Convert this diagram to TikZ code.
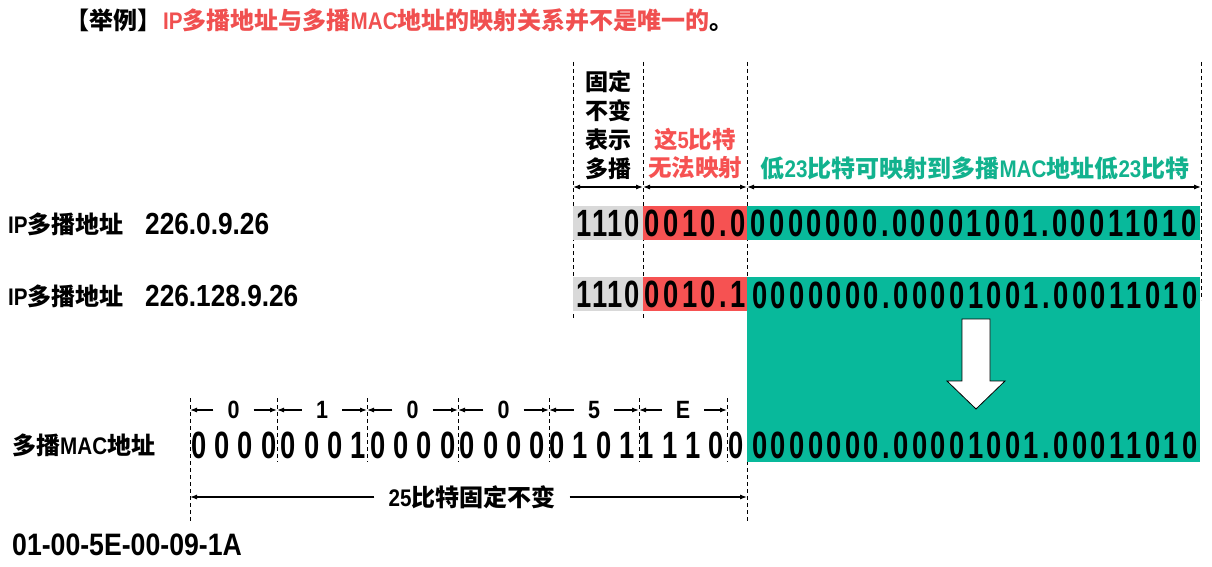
\documentclass[tikz,border=0pt]{standalone}
\usepackage{fontspec}
\setmainfont{Liberation Sans}
\newfontfamily\cjk{Noto Sans CJK SC}
\newfontfamily\lat{Liberation Sans}[FakeStretch=0.86]
\newfontfamily\bitf{Liberation Sans}[FakeStretch=0.72,LetterSpace=9]
\newfontfamily\bitg{Liberation Sans}[FakeStretch=0.72,LetterSpace=5]
\newfontfamily\bitd{Liberation Sans}[FakeStretch=0.72]
\usetikzlibrary{arrows.meta}
\definecolor{boxred}{RGB}{246,82,82}
\definecolor{titlered}{RGB}{240,80,80}
\definecolor{boxgreen}{RGB}{8,185,155}
\definecolor{txtgreen}{RGB}{18,178,142}
\definecolor{boxgray}{RGB}{217,217,217}
\newcommand\zhb[1]{{\cjk\bfseries #1}}
\newcommand\enb[1]{{\lat\bfseries #1}}
\tikzset{
  guide/.style={draw=black, line width=0.8pt, dash pattern=on 4pt off 3pt},
  dimarrow/.style={{Latex[length=7pt,width=5pt]}-{Latex[length=7pt,width=5pt]}, line width=1.1pt},
  onearrow/.style={-{Latex[length=7pt,width=5pt]}, line width=1.1pt},
  cell/.style={inner sep=0pt, anchor=north west, font=\fontsize{38}{38}\selectfont\bitf\bfseries},
  graycell/.style={cell, font=\fontsize{38}{38}\selectfont\bitg\bfseries},
  bitstr/.style={inner sep=0pt, font=\fontsize{38}{38}\selectfont\bitf\bfseries},
  bitdig/.style={inner sep=0pt, font=\fontsize{38}{38}\selectfont\bitd\bfseries},
  lbl/.style={inner sep=0pt, font=\fontsize{22}{22}\selectfont},
  hexlbl/.style={inner xsep=14pt, inner ysep=0pt, font=\fontsize{25}{25}\selectfont\lat\bfseries},
}
\begin{document}
\begin{tikzpicture}[x=1pt,y=-1pt]
\useasboundingbox (0,0) rectangle (1212,567);

% title
\node[lbl, anchor=west, font=\fontsize{24}{24}\selectfont] (title) at (65,20) {\zhb{【举例】}\hspace{2pt}\color{titlered}\enb{IP}\zhb{多播地址与多播}\enb{MAC}\zhb{地址的映射关系并不是唯一的}\color{black}\zhb{。}};

% guide lines
\draw[guide] (573,62) -- (573,318);
\draw[guide] (643,62) -- (643,318);
\draw[guide] (747,62) -- (747,523);
\draw[guide] (1201,62) -- (1201,300);
\draw[guide] (190,398) -- (190,523);
\foreach \sx in {277,367,458,549,639,727} { \draw[guide] (\sx,398) -- (\sx,462); }

% top labels
\node[lbl, align=center, font=\fontsize{23}{29}\selectfont] (fixlbl) at (608,125) {\zhb{固定}\\\zhb{不变}\\\zhb{表示}\\\zhb{多播}};
\node[lbl, align=center, text=boxred, font=\fontsize{23.5}{28}\selectfont] (redlbl) at (695,154) {\zhb{这}\enb{5}\zhb{比特}\\\zhb{无法映射}};
\node[lbl, text=txtgreen, font=\fontsize{24}{24}\selectfont] (grnlbl) at (975,168) {\zhb{低}\enb{23}\zhb{比特可映射到多播}\enb{MAC}\zhb{地址低}\enb{23}\zhb{比特}};

% top dimension arrows
\coordinate (t0) at (573,187);
\coordinate (t1) at (643,187);
\coordinate (t2) at (747,187);
\coordinate (t3) at (1201,187);
\draw[dimarrow] (t0) -- (t1);
\draw[dimarrow] (t1) -- (t2);
\draw[dimarrow] (t2) -- (t3);

% row 1
\node[lbl, anchor=west, font=\fontsize{24}{24}\selectfont] (ip1) at (8,224) {\enb{IP}\zhb{多播地址}};
\node[lbl, anchor=west, font=\fontsize{30.5}{30.5}\selectfont\lat\bfseries] (ipv1) at (145,224) {226.0.9.26};
\node[graycell, fill=boxgray, minimum width=70pt, minimum height=34pt] (g1) at (573,206) {1110};
\node[cell, fill=boxred, minimum width=104pt, minimum height=34pt] (r1) at (643,206) {0010.0};
\node[cell, fill=boxgreen, minimum width=453pt, minimum height=34pt] (e1) at (747,206) {0000000.00001001.00011010};

% row 2
\node[lbl, anchor=west, font=\fontsize{24}{24}\selectfont] (ip2) at (8,296) {\enb{IP}\zhb{多播地址}};
\node[lbl, anchor=west, font=\fontsize{30.5}{30.5}\selectfont\lat\bfseries] (ipv2) at (145,296) {226.128.9.26};
\node[graycell, fill=boxgray, minimum width=70pt, minimum height=34pt] (g2) at (573,277) {1110};
\node[cell, fill=boxred, minimum width=104pt, minimum height=34pt] (r2) at (643,277) {0010.1};
\node[cell, fill=boxgreen, minimum width=453pt, minimum height=185pt] (e2) at (747,277) {};
\node[bitstr] (e2txt) at (975,295) {0000000.00001001.00011010};

% white down arrow
\draw[fill=white, draw=black, line width=0.8pt] (962,319) -- (990,319) -- (990,381) -- (1005,381) -- (976,409) -- (947,381) -- (962,381) -- cycle;

% MAC row
\node[lbl, anchor=west, font=\fontsize{24}{24}\selectfont] (maclbl) at (12,445) {\zhb{多播}\enb{MAC}\zhb{地址}};
\foreach \b [count=\i from 0] in {0,0,0,0,0,0,0,1,0,0,0,0,0,0,0,0,0,1,0,1,1,1,1,0,0} {
  \pgfmathsetmacro\xx{190+89.5*floor(\i/4)+9+23.3*mod(\i,4)}
  \node[bitdig] (m\i) at (\xx,445) {\b};
}
\node[bitstr] (e3txt) at (975,445) {0000000.00001001.00011010};

% hex labels
\foreach \sx [count=\j from 0] in {190,277,367,458,549,639,727} { \coordinate (s\j) at (\sx,410); }
\foreach \h/\hx [count=\j from 0] in {0/233.5,1/322,0/412.5,0/503.5,5/594,E/683} {
  \node[hexlbl] (h\j) at (\hx,410) {\h};
}
\draw[onearrow] (h0) -- (s0); \draw[onearrow] (h0) -- (s1);
\draw[onearrow] (h1) -- (s1); \draw[onearrow] (h1) -- (s2);
\draw[onearrow] (h2) -- (s2); \draw[onearrow] (h2) -- (s3);
\draw[onearrow] (h3) -- (s3); \draw[onearrow] (h3) -- (s4);
\draw[onearrow] (h4) -- (s4); \draw[onearrow] (h4) -- (s5);
\draw[onearrow] (h5) -- (s5); \draw[onearrow] (h5) -- (s6);

% 25 bits
\coordinate (c0) at (190,497);
\coordinate (c1) at (747,497);
\node[lbl, inner xsep=14pt, font=\fontsize{24}{24}\selectfont] (b25) at (472,497) {\enb{25}\zhb{比特固定不变}};
\draw[onearrow] (b25) -- (c0);
\draw[onearrow] (b25) -- (c1);

% MAC hex
\node[lbl, anchor=west, font=\fontsize{31}{31}\selectfont\lat\bfseries] (machex) at (12,545) {01-00-5E-00-09-1A};
\end{tikzpicture}
\end{document}
